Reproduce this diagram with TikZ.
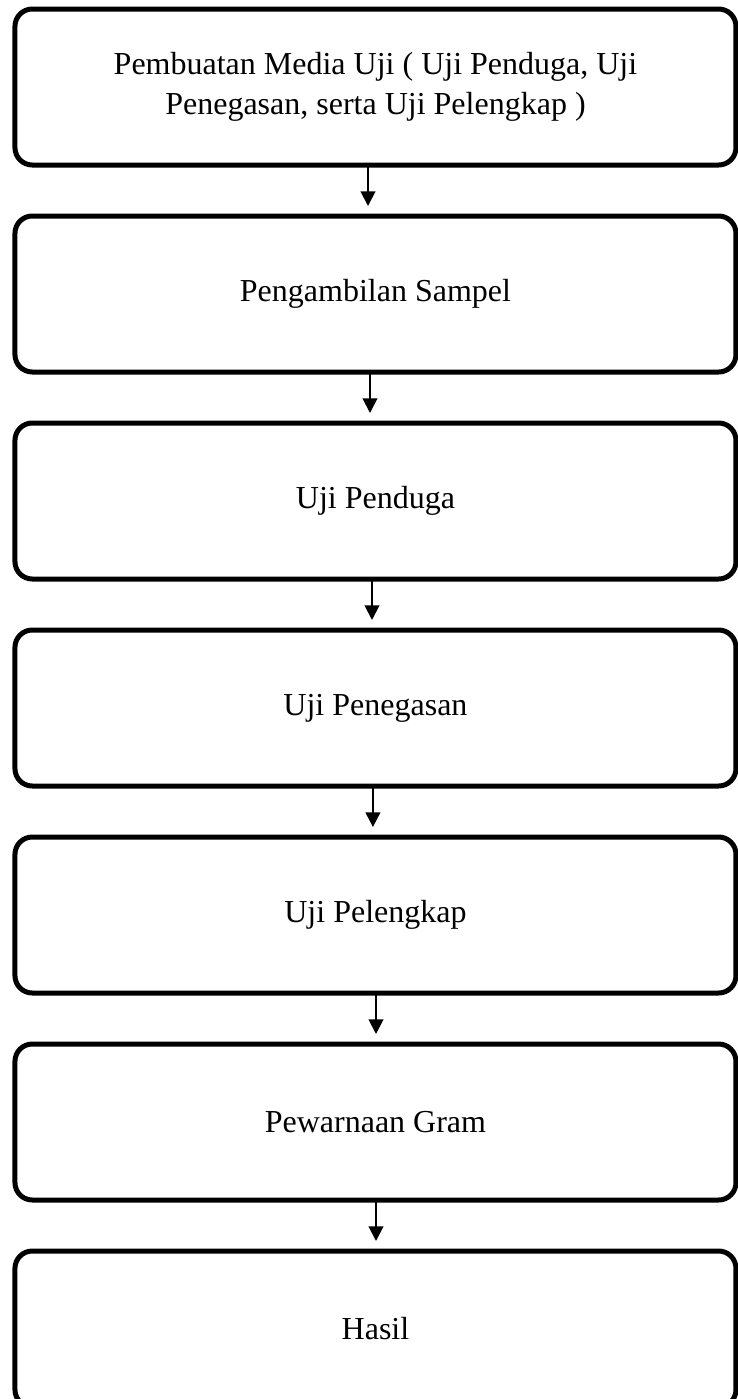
\documentclass[tikz,border=0pt]{standalone}
\usepackage{fontspec}
\setmainfont{Liberation Serif}
\usetikzlibrary{arrows.meta,positioning}

\begin{document}
\begin{tikzpicture}[
node distance=38.25pt,
box/.style={draw,line width=3.75pt,outer sep=0pt,rounded corners=13pt,align=center,minimum width=540.75pt,minimum height=117pt,font=\fontsize{24}{30.5}\selectfont},
arr/.style={-{Triangle[width=11pt,length=11pt]},line width=1.5pt,shorten >=7.5pt}]
\useasboundingbox (0,0) rectangle (553.5pt,-1049.25pt);
\node[box] (media) at (281.6pt,-65.25pt) {Pembuatan Media Uji ( Uji Penduga, Uji\\Penegasan, serta Uji Pelengkap )};
\node[box,below=of media] (sampel) {Pengambilan Sampel};
\node[box,below=of sampel] (penduga) {Uji Penduga};
\node[box,below=of penduga] (penegasan) {Uji Penegasan};
\node[box,below=of penegasan] (pelengkap) {Uji Pelengkap};
\node[box,below=of pelengkap] (gram) {Pewarnaan Gram};
\node[box,below=of gram] (hasil) {Hasil};
\draw[arr] ([xshift=-5.6pt]media.south) -- ([xshift=-5.6pt]sampel.north);
\draw[arr] ([xshift=-4.1pt]sampel.south) -- ([xshift=-4.1pt]penduga.north);
\draw[arr] ([xshift=-2.6pt]penduga.south) -- ([xshift=-2.6pt]penegasan.north);
\draw[arr] ([xshift=-1.9pt]penegasan.south) -- ([xshift=-1.9pt]pelengkap.north);
\draw[arr] ([xshift=0.4pt]pelengkap.south) -- ([xshift=0.4pt]gram.north);
\draw[arr] ([xshift=0.4pt]gram.south) -- ([xshift=0.4pt]hasil.north);
\end{tikzpicture}
\end{document}
